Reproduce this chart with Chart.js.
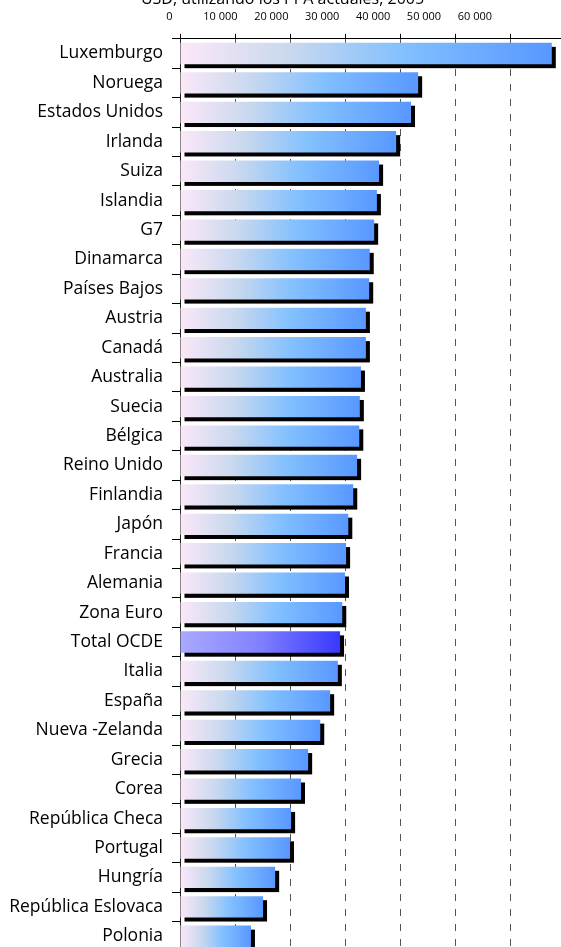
<!DOCTYPE html>
<html>
<head>
<meta charset="utf-8">
<script src="https://cdn.jsdelivr.net/npm/chart.js@4.4.1/dist/chart.umd.min.js"></script>
<style>
  html, body { margin: 0; padding: 0; background: #fff; overflow: hidden; }
  #wrap { position: relative; width: 561px; height: 947px; overflow: hidden; }
  #chart { position: absolute; left: 0; top: -30px; }
</style>
</head>
<body>
<div id="wrap"><canvas id="chart" width="565" height="981"></canvas></div>
<script>
const countries = ['Luxemburgo', 'Noruega', 'Estados Unidos', 'Irlanda', 'Suiza', 'Islandia', 'G7',
  'Dinamarca', 'Países Bajos', 'Austria', 'Canadá', 'Australia', 'Suecia', 'Bélgica', 'Reino Unido',
  'Finlandia', 'Japón', 'Francia', 'Alemania', 'Zona Euro', 'Total OCDE', 'Italia', 'España',
  'Nueva -Zelanda', 'Grecia', 'Corea', 'República Checa', 'Portugal', 'Hungría', 'República Eslovaca', 'Polonia']
const values = [67600, 43300, 42000, 39300, 36200, 35800, 35300,
  34500, 34400, 33800, 33800, 32900, 32700, 32600, 32200,
  31500, 30600, 30200, 30000, 29500, 29100, 28700, 27300,
  25500, 23300, 22000, 20200, 20000, 17300, 15100, 12900]
const tickValues = [0, 10000, 20000, 30000, 40000, 50000, 60000]
const titleText = 'USD, utilizando los PPA actuales, 2005'
const highlight = 'Total OCDE'

const FONT = '"Open Sans", Lato, sans-serif'

function fmt(v) {
  return String(v).replace(/\B(?=(\d{3})+(?!\d))/g, ' ')
}

// black drop shadow behind every bar
const shadowPlugin = {
  id: 'shadow',
  beforeDatasetsDraw(chart) {
    const ctx = chart.ctx
    const meta = chart.getDatasetMeta(0)
    ctx.save()
    ctx.fillStyle = '#000'
    meta.data.forEach(function (bar) {
      const p = bar.getProps(['x', 'y', 'base', 'height'], true)
      ctx.fillRect(p.base + 4, p.y - p.height / 2 + 4, p.x - p.base, p.height)
    })
    ctx.restore()
  }
}

function barGradient(c) {
  const chart = c.chart
  if (!chart.chartArea || c.type !== 'data') return '#80c0ff'
  const xs = chart.scales.x
  const x0 = xs.getPixelForValue(0)
  const x1 = xs.getPixelForValue(c.raw)
  const g = chart.ctx.createLinearGradient(x0, 0, x1, 0)
  if (countries[c.dataIndex] == highlight) {
    g.addColorStop(0, '#aaaaff')
    g.addColorStop(0.5, '#8080ff')
    g.addColorStop(1, '#3838ff')
  } else {
    g.addColorStop(0, '#fbe8f8')
    g.addColorStop(0.3, '#c8d8ee')
    g.addColorStop(0.6, '#82c0ff')
    g.addColorStop(1, '#5898ff')
  }
  return g
}

new Chart(document.getElementById('chart'), {
  type: 'bar',
  data: {
    labels: countries,
    datasets: [{
      data: values,
      backgroundColor: barGradient,
      borderWidth: 0,
      barPercentage: 0.725,
      categoryPercentage: 1
    }]
  },
  options: {
    indexAxis: 'y',
    responsive: false,
    animation: false,
    devicePixelRatio: 1,
    layout: { padding: 0 },
    plugins: {
      legend: { display: false },
      tooltip: { enabled: false },
      title: {
        display: true,
        text: titleText,
        color: '#000',
        font: { family: FONT, size: 16, weight: 'normal' },
        padding: { top: 19.6, bottom: 0 }
      }
    },
    scales: {
      x: {
        position: 'top',
        min: 0,
        max: 70000,
        weight: 0,
        ticks: { display: false, stepSize: 10000 },
        grid: {
          color: function (c) { return c.tick && c.tick.value == 0 ? 'rgba(0,0,0,0)' : '#555' },
          lineWidth: 1,
          drawTicks: true,
          tickLength: 5,
          tickColor: '#000'
        },
        border: { display: true, color: '#000', width: 1, dash: [7, 8] },
        afterFit: function (s) { s.height = 12.7; s.paddingLeft = 0; s.paddingRight = 0 }
      },
      // label row of the top axis (its labels sit slightly off the tick marks)
      x2: {
        position: 'top',
        min: 2063,
        max: 77700,
        weight: 1,
        grid: { display: false, drawTicks: false },
        border: { display: false },
        ticks: {
          color: '#000',
          font: { family: FONT, size: 11 },
          padding: 3,
          autoSkip: false,
          maxRotation: 0,
          callback: function (v) { return fmt(v) }
        },
        afterBuildTicks: function (s) { s.ticks = tickValues.map(function (v) { return { value: v } }) },
        afterFit: function (s) { s.height = 17.3; s.paddingLeft = 0; s.paddingRight = 0 }
      },
      y: {
        grid: {
          offset: true,
          drawOnChartArea: false,
          tickLength: 8,
          tickColor: '#000'
        },
        border: { display: true, color: '#222', width: 1 },
        ticks: {
          color: '#000',
          font: { family: FONT, size: 17.5 },
          padding: 9,
          autoSkip: false
        },
        afterFit: function (s) { s.width = 180; s.paddingTop = 0; s.paddingBottom = 0 }
      }
    }
  },
  plugins: [shadowPlugin]
})
</script>
</body>
</html>
